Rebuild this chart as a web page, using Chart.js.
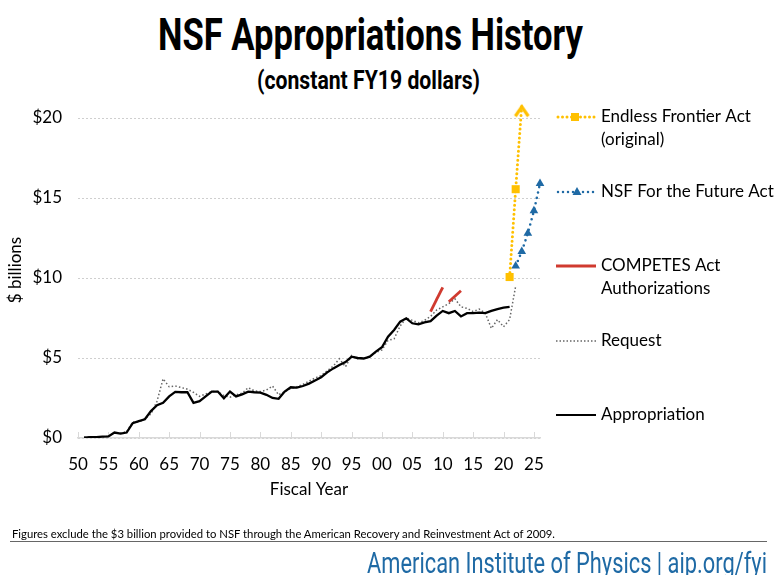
<!DOCTYPE html>
<html>
<head>
<meta charset="utf-8">
<script src="https://cdn.jsdelivr.net/npm/chart.js@4.4.1/dist/chart.umd.min.js"></script>
<style>
body{margin:0;width:775px;height:575px;overflow:hidden;background:#fff;position:relative}
#chart{position:absolute;left:0;top:0}
.fit{position:absolute;white-space:nowrap;transform-origin:0 0;line-height:1}
#title{top:9px;font:bold 44px Roboto,sans-serif;color:#000}
#subtitle{top:65px;font:bold 26px Roboto,sans-serif;color:#000}
#note{top:527px;font:11px Lato,sans-serif;color:#000}
#rule{position:absolute;left:10px;width:757px;top:541px;height:0;border-top:1.5px solid #666}
#footer{top:546px;font:29px Roboto,sans-serif;color:#1f6aa5}
</style>
</head>
<body>
<div id="title" class="fit">NSF Appropriations History</div>
<div id="subtitle" class="fit">(constant FY19 dollars)</div>
<canvas id="chart" width="775" height="575"></canvas>
<div id="note" class="fit">Figures exclude the $3 billion provided to NSF through the American Recovery and Reinvestment Act of 2009.</div>
<div id="rule"></div>
<div id="footer" class="fit">American Institute of Physics | aip.org/fyi</div>
<script>
// fiscal years
var apprYears=[1951,1952,1953,1954,1955,1956,1957,1958,1959,1960,1961,1962,1963,1964,1965,1966,1967,1968,1969,1970,
  1971,1972,1973,1974,1975,1976,1977,1978,1979,1980,1981,1982,1983,1984,1985,1986,1987,1988,1989,1990,
  1991,1992,1993,1994,1995,1996,1997,1998,1999,2000,2001,2002,2003,2004,2005,2006,2007,2008,2009,2010,
  2011,2012,2013,2014,2015,2016,2017,2018,2019,2020,2021]
var appropriation=[0.02,0.05,0.06,0.08,0.1,0.34,0.27,0.34,0.93,1.05,1.17,1.68,2.05,2.2,2.6,2.88,2.86,2.86,2.2,2.3,
  2.6,2.9,2.9,2.48,2.9,2.6,2.73,2.9,2.86,2.84,2.7,2.5,2.45,2.9,3.17,3.15,3.25,3.4,3.6,3.8,
  4.1,4.35,4.56,4.75,5.08,5.0,4.97,5.08,5.4,5.67,6.33,6.75,7.27,7.48,7.17,7.1,7.23,7.3,7.65,7.94,
  7.8,7.94,7.6,7.8,7.8,7.83,7.8,7.94,8.06,8.15,8.2]

var requestYears=apprYears.concat([2022])
var request=[0.05,0.06,0.07,0.08,0.1,0.33,0.3,0.4,1.0,1.0,1.2,1.5,2.3,3.7,3.2,3.25,3.15,3.05,2.85,2.6,
  2.75,2.9,2.9,2.65,2.55,2.7,2.8,3.15,2.95,2.9,3.0,3.25,2.7,2.9,3.1,3.2,3.35,3.55,3.75,3.9,
  4.2,4.5,4.95,4.45,5.15,4.95,5.0,5.1,5.35,5.5,6.1,6.2,7.0,7.5,7.35,7.2,7.35,7.6,8.0,8.2,
  8.4,8.7,8.2,8.1,7.9,8.06,7.8,6.85,7.4,6.95,7.4,9.5]

var competes2007Years=[2008,2009,2010]
var competes2007=[7.9,8.66,9.42]
var competes2010Years=[2011,2012,2013]
var competes2010=[8.52,8.86,9.2]

var endlessYears=[2021,2022,2023]
var endless=[10.06,15.55,20.8]

var futureYears=[2022,2023,2024,2025,2026]
var future=[10.75,11.65,12.8,14.2,15.9]

var xTickYears=[1950,1955,1960,1965,1970,1975,1980,1985,1990,1995,2000,2005,2010,2015,2020,2025]
var yTicks=[0,5,10,15,20]

var YELLOW="#ffc000", BLUE="#1f6aa5", RED="#d03a2f"

function pts(xs,ys){
  var out=[]
  for(var i=0;i<xs.length;i++) out.push({x:xs[i],y:ys[i]})
  return out
}

function makeArrow(color){
  var cv=document.createElement("canvas")
  cv.width=30;cv.height=30
  var c=cv.getContext("2d")
  c.strokeStyle=color;c.lineWidth=3.2;c.lineJoin="miter";c.lineCap="butt"
  c.beginPath();c.moveTo(8.5,26);c.lineTo(15,16.5);c.lineTo(21.5,26);c.stroke()
  return cv
}

function fit(id,left,width){
  var el=document.getElementById(id)
  el.style.left=left+"px"
  var w=el.getBoundingClientRect().width
  el.style.transform="scaleX("+(width/w)+")"
}

// short inward tick marks on the x axis
var innerTicks={
  id:"innerTicks",
  beforeDatasetsDraw:function(chart){
    var c=chart.ctx, sx=chart.scales.x, b=chart.chartArea.bottom
    c.save()
    c.strokeStyle="#d9d9d9";c.lineWidth=1
    xTickYears.forEach(function(v){
      var x=Math.round(sx.getPixelForValue(v))+0.5
      c.beginPath();c.moveTo(x,b);c.lineTo(x,b-6);c.stroke()
    })
    c.restore()
  }
}

// legend on the right with uneven spacing
var sideLegend={
  id:"sideLegend",
  afterDraw:function(chart){
    var c=chart.ctx
    var items=[
      {y:117,lines:["Endless Frontier Act","(original)"],color:YELLOW,dash:[0,4.5],w:3,marker:"rect"},
      {y:192,lines:["NSF For the Future Act"],color:BLUE,dash:[0,5],w:2.5,marker:"tri"},
      {y:266,lines:["COMPETES Act","Authorizations"],color:RED,dash:[],w:3},
      {y:341,lines:["Request"],color:"#666",dash:[1.5,2],w:1.4},
      {y:415,lines:["Appropriation"],color:"#000",dash:[],w:2.2}
    ]
    c.save()
    items.forEach(function(it){
      var round=it.dash.length&&it.dash[0]===0
      c.strokeStyle=it.color;c.lineWidth=it.w;c.setLineDash(it.dash)
      c.lineCap=round?"round":"butt"
      c.beginPath();c.moveTo(round?558:556,it.y);c.lineTo(596,it.y);c.stroke()
      c.setLineDash([])
      c.fillStyle=it.color
      if(it.marker==="rect") c.fillRect(575-4,it.y-4,8,8)
      if(it.marker==="tri"){
        c.beginPath();c.moveTo(577,it.y-5);c.lineTo(581.5,it.y+3);c.lineTo(572.5,it.y+3);c.closePath();c.fill()
      }
      c.fillStyle="#000";c.font="17px Lato";c.textBaseline="middle";c.textAlign="left"
      it.lines.forEach(function(t,i){c.fillText(t,601,it.y+i*23)})
    })
    c.restore()
  }
}

function draw(){
  fit("title",158,425)
  fit("subtitle",257,223)
  fit("note",12,543)
  fit("footer",367,400)

  var arrow=makeArrow(YELLOW)
  var ctx=document.getElementById("chart").getContext("2d")
  new Chart(ctx,{
    type:"line",
    data:{
      datasets:[
        {label:"Endless Frontier Act (original)",data:pts(endlessYears,endless),borderColor:YELLOW,backgroundColor:YELLOW,
          borderWidth:3,borderDash:[0,4.5],borderCapStyle:"round",clip:false,
          pointStyle:function(c){return c.dataIndex===endless.length-1?arrow:"rect"},pointRadius:5.7,pointBorderWidth:0},
        {label:"NSF For the Future Act",data:pts(futureYears,future),borderColor:BLUE,backgroundColor:BLUE,
          borderWidth:2.6,borderDash:[0,5.5],borderCapStyle:"round",clip:false,
          pointStyle:"triangle",pointRadius:5,pointBorderWidth:0},
        {label:"COMPETES Act Authorizations",data:pts(competes2007Years,competes2007),borderColor:RED,borderWidth:2.8,pointRadius:0},
        {label:"COMPETES 2010",data:pts(competes2010Years,competes2010),borderColor:RED,borderWidth:2.8,pointRadius:0},
        {label:"Appropriation",data:pts(apprYears,appropriation),borderColor:"#000",borderWidth:2.3,pointRadius:0,tension:0},
        {label:"Request",data:pts(requestYears,request),borderColor:"#666",borderWidth:1.5,borderDash:[1.5,2.2],pointRadius:0}
      ]
    },
    options:{
      responsive:false,
      animation:false,
      events:[],
      layout:{padding:{left:0,top:102,right:235,bottom:75}},
      plugins:{legend:{display:false},tooltip:{enabled:false}},
      scales:{
        x:{
          type:"linear",min:1950,max:2026,
          afterFit:function(s){s.height=62},
          afterBuildTicks:function(s){s.ticks=xTickYears.map(function(v){return {value:v}})},
          grid:{display:false,drawTicks:false},
          border:{display:true,color:"#d9d9d9",width:1.5},
          ticks:{autoSkip:false,maxRotation:0,padding:16,color:"#000",font:{family:"Lato",size:17},
            callback:function(v){var r=v%100;return (r<10?"0":"")+r}},
          title:{display:true,text:"Fiscal Year",color:"#000",font:{family:"Lato",size:17},padding:{top:0,bottom:0}}
        },
        y:{
          min:0,max:21,
          afterFit:function(s){s.width=78},
          afterBuildTicks:function(s){s.ticks=yTicks.map(function(v){return {value:v}})},
          grid:{color:"#cfcfcf",drawTicks:false,lineWidth:1},
          border:{display:false,dash:[2,2]},
          ticks:{padding:16,color:"#000",font:{family:"Lato",size:17},callback:function(v){return "$"+v}},
          title:{display:true,text:"$ billions",color:"#000",font:{family:"Lato",size:17},padding:{top:5,bottom:0}}
        }
      }
    },
    plugins:[innerTicks,sideLegend]
  })
}

Promise.all([
  document.fonts.load("17px Lato"),
  document.fonts.load("bold 44px Roboto"),
  document.fonts.load("29px Roboto")
]).then(draw,draw)
</script>
</body>
</html>
